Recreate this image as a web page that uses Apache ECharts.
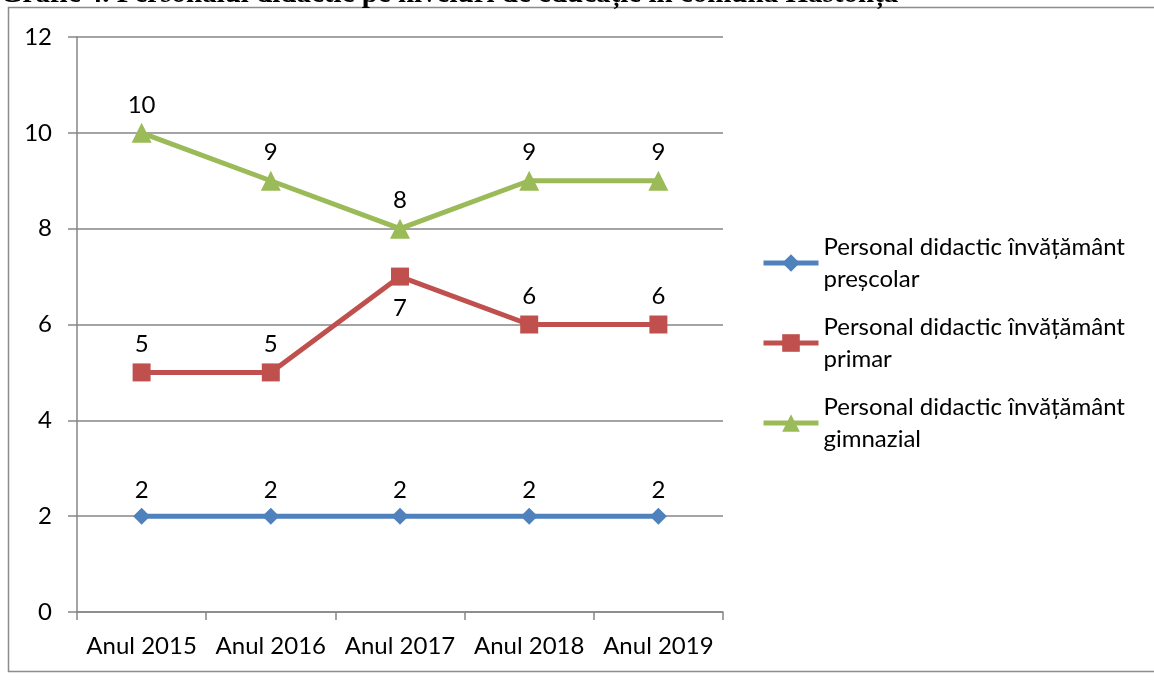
<!DOCTYPE html>
<html>
<head>
<meta charset="utf-8">
<script src="https://cdn.jsdelivr.net/npm/echarts@6/dist/echarts.min.js"></script>
<style>
html,body{margin:0;padding:0;background:#fff;}
#chart{width:1154px;height:680px;}
</style>
</head>
<body>
<div id="chart"></div>
<script>
var titleText = 'Grafic 4. Personalul didactic pe niveluri de educație în comuna Hastonța';
var categories = ['Anul 2015', 'Anul 2016', 'Anul 2017', 'Anul 2018', 'Anul 2019'];
var seriesNames = [
  'Personal didactic învățământ\npreșcolar',
  'Personal didactic învățământ\nprimar',
  'Personal didactic învățământ\ngimnazial'
];
var prescolar = [2, 2, 2, 2, 2];
var primar = [5, 5, 7, 6, 6];
var gimnazial = [10, 9, 8, 9, 9];
var yTicks = [0, 2, 4, 6, 8, 10, 12];

var FONT = 'Lato';
var FS = 24;
var axisGray = '#868686';

var chart = echarts.init(document.getElementById('chart'), null, {renderer: 'canvas'});

var primarData = primar.map(function (v, i) {
  var d = {value: v};
  if (i === 2) {
    d.label = {position: 'bottom', distance: 11};
  }
  return d;
});

var option = {
  backgroundColor: '#ffffff',
  animation: false,
  graphic: [
    {
      type: 'rect',
      shape: {x: 8.5, y: 7.5, width: 1160, height: 664},
      style: {fill: 'none', stroke: '#8c8c8c', lineWidth: 1.5},
      z: 0
    },
    {
      type: 'text',
      x: 0,
      y: 9,
      style: {
        text: titleText,
        font: 'bold 29px "Liberation Serif"',
        fill: '#000',
        textAlign: 'left',
        textVerticalAlign: 'bottom',
        verticalAlign: 'bottom'
      },
      z: 10
    }
  ],
  grid: {left: 77, right: 431, top: 37, bottom: 68, containLabel: false},
  xAxis: {
    type: 'category',
    data: categories,
    boundaryGap: true,
    axisLine: {lineStyle: {color: axisGray, width: 1.5}},
    axisTick: {show: true, length: 8, interval: 0, alignWithLabel: false, lineStyle: {color: axisGray, width: 1.5}},
    axisLabel: {fontFamily: FONT, fontSize: FS, color: '#000', margin: 22, interval: 0}
  },
  yAxis: {
    type: 'value',
    min: yTicks[0],
    max: yTicks[yTicks.length - 1],
    interval: yTicks[1] - yTicks[0],
    axisLine: {show: true, lineStyle: {color: axisGray, width: 1.5}},
    axisTick: {show: true, length: 9, lineStyle: {color: axisGray, width: 1.5}},
    splitLine: {show: true, lineStyle: {color: axisGray, width: 1.5}},
    axisLabel: {fontFamily: FONT, fontSize: FS, color: '#000', margin: 25}
  },
  legend: {
    orient: 'vertical',
    left: 761,
    top: 215,
    padding: 0,
    itemWidth: 55,
    itemHeight: 22,
    itemGap: -16,
    lineStyle: {width: 5},
    textStyle: {
      fontFamily: FONT,
      fontSize: FS,
      color: '#000',
      lineHeight: 32,
      padding: [32, 0, 0, 0]
    },
    data: seriesNames
  },
  series: [
    {
      name: seriesNames[0],
      type: 'line',
      data: prescolar,
      symbol: 'diamond',
      symbolSize: 17,
      lineStyle: {color: '#4F81BD', width: 5},
      itemStyle: {color: '#4F81BD'},
      label: {show: true, position: 'top', distance: 5, fontFamily: FONT, fontSize: FS, color: '#000'},
      z: 3
    },
    {
      name: seriesNames[1],
      type: 'line',
      data: primarData,
      symbol: 'rect',
      symbolSize: 18,
      lineStyle: {color: '#C0504D', width: 5},
      itemStyle: {color: '#C0504D'},
      label: {show: true, position: 'top', distance: 7, fontFamily: FONT, fontSize: FS, color: '#000'},
      z: 3
    },
    {
      name: seriesNames[2],
      type: 'line',
      data: gimnazial,
      symbol: 'triangle',
      symbolSize: 20,
      lineStyle: {color: '#9BBB59', width: 5},
      itemStyle: {color: '#9BBB59'},
      label: {show: true, position: 'top', distance: 6, fontFamily: FONT, fontSize: FS, color: '#000'},
      z: 3
    }
  ]
};
chart.setOption(option);
</script>
</body>
</html>
